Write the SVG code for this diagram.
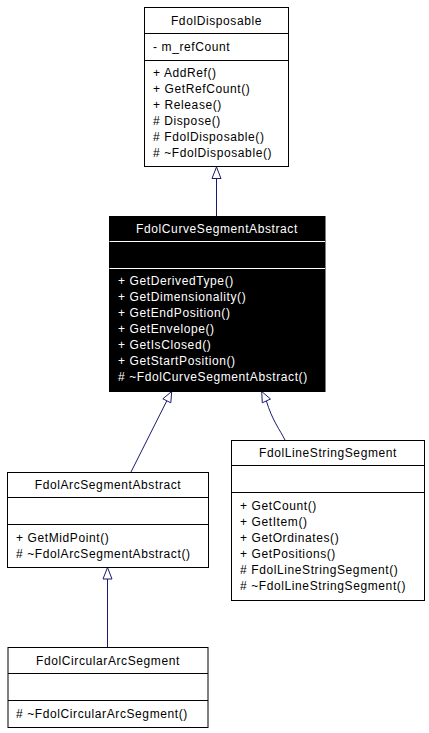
<svg xmlns="http://www.w3.org/2000/svg" width="429" height="733" viewBox="0 0 429 733">
<style>
.box{fill:#fff;stroke:#000;stroke-width:1}
.sep{stroke:#000;stroke-width:1}
.dark .box{fill:#000;stroke:#000}
.dark .sep{stroke:#fff}
text{font-family:"Liberation Sans",Arial,sans-serif;font-size:12px;letter-spacing:0.6px;fill:#000}
.dark text{fill:#fff}
.t{text-anchor:middle}
.edge{fill:none;stroke:#191970;stroke-width:1}
.head{fill:#fff;stroke:#191970;stroke-width:1}
</style>
<rect width="429" height="733" fill="#fff"/>
<g id="connectors">
<path class="edge" d="M216.5,216 V178.5"/>
<polygon class="head" points="216.5,167 212,178.5 221,178.5"/>
<path class="edge" d="M131,472 L166.8,400.8"/>
<polygon class="head" points="171.7,391.5 170.8,402.8 162.8,398.8"/>
<path class="edge" d="M285,440 C280,430 272,420 266.4,400.9"/>
<polygon class="head" points="261.7,391.5 270.5,399 262.3,402.8"/>
<path class="edge" d="M107.5,647 V579"/>
<polygon class="head" points="107.5,567.5 103,579 112,579"/>
</g>
<g id="FdolDisposable">
<rect class="box" x="144.5" y="7.5" width="144" height="159"/>
<line class="sep" x1="144.5" y1="33.5" x2="288.5" y2="33.5"/>
<line class="sep" x1="144.5" y1="60.5" x2="288.5" y2="60.5"/>
<text class="t" x="216.5" y="25">FdolDisposable</text>
<text x="153" y="51">- m_refCount</text>
<text x="153" y="77">+ AddRef()</text>
<text x="153" y="93">+ GetRefCount()</text>
<text x="153" y="109">+ Release()</text>
<text x="153" y="125"># Dispose()</text>
<text x="153" y="141"># FdolDisposable()</text>
<text x="153" y="157"># ~FdolDisposable()</text>
</g>
<g id="FdolCurveSegmentAbstract" class="dark">
<rect class="box" x="109.5" y="216.5" width="215.5" height="175"/>
<line class="sep" x1="109.5" y1="241.5" x2="325" y2="241.5"/>
<line class="sep" x1="109.5" y1="268.5" x2="325" y2="268.5"/>
<text class="t" x="217" y="233">FdolCurveSegmentAbstract</text>
<text x="118" y="285">+ GetDerivedType()</text>
<text x="118" y="301">+ GetDimensionality()</text>
<text x="118" y="317">+ GetEndPosition()</text>
<text x="118" y="333">+ GetEnvelope()</text>
<text x="118" y="349">+ GetIsClosed()</text>
<text x="118" y="365">+ GetStartPosition()</text>
<text x="118" y="381"># ~FdolCurveSegmentAbstract()</text>
</g>
<g id="FdolArcSegmentAbstract">
<rect class="box" x="7.5" y="472.5" width="201" height="95"/>
<line class="sep" x1="7.5" y1="497.5" x2="208.5" y2="497.5"/>
<line class="sep" x1="7.5" y1="524.5" x2="208.5" y2="524.5"/>
<text class="t" x="108" y="489">FdolArcSegmentAbstract</text>
<text x="16" y="541.5">+ GetMidPoint()</text>
<text x="16" y="557.5"># ~FdolArcSegmentAbstract()</text>
</g>
<g id="FdolLineStringSegment">
<rect class="box" x="231.5" y="440.5" width="193" height="160"/>
<line class="sep" x1="231.5" y1="465.5" x2="424.5" y2="465.5"/>
<line class="sep" x1="231.5" y1="492.5" x2="424.5" y2="492.5"/>
<text class="t" x="328" y="457">FdolLineStringSegment</text>
<text x="240" y="509.5">+ GetCount()</text>
<text x="240" y="525.5">+ GetItem()</text>
<text x="240" y="541.5">+ GetOrdinates()</text>
<text x="240" y="557.5">+ GetPositions()</text>
<text x="240" y="573.5"># FdolLineStringSegment()</text>
<text x="240" y="589.5"># ~FdolLineStringSegment()</text>
</g>
<g id="FdolCircularArcSegment">
<rect class="box" x="8" y="647.5" width="200" height="80"/>
<line class="sep" x1="8" y1="673.5" x2="208" y2="673.5"/>
<line class="sep" x1="8" y1="700.5" x2="208" y2="700.5"/>
<text class="t" x="108" y="665">FdolCircularArcSegment</text>
<text x="16" y="717.5"># ~FdolCircularArcSegment()</text>
</g>
</svg>
